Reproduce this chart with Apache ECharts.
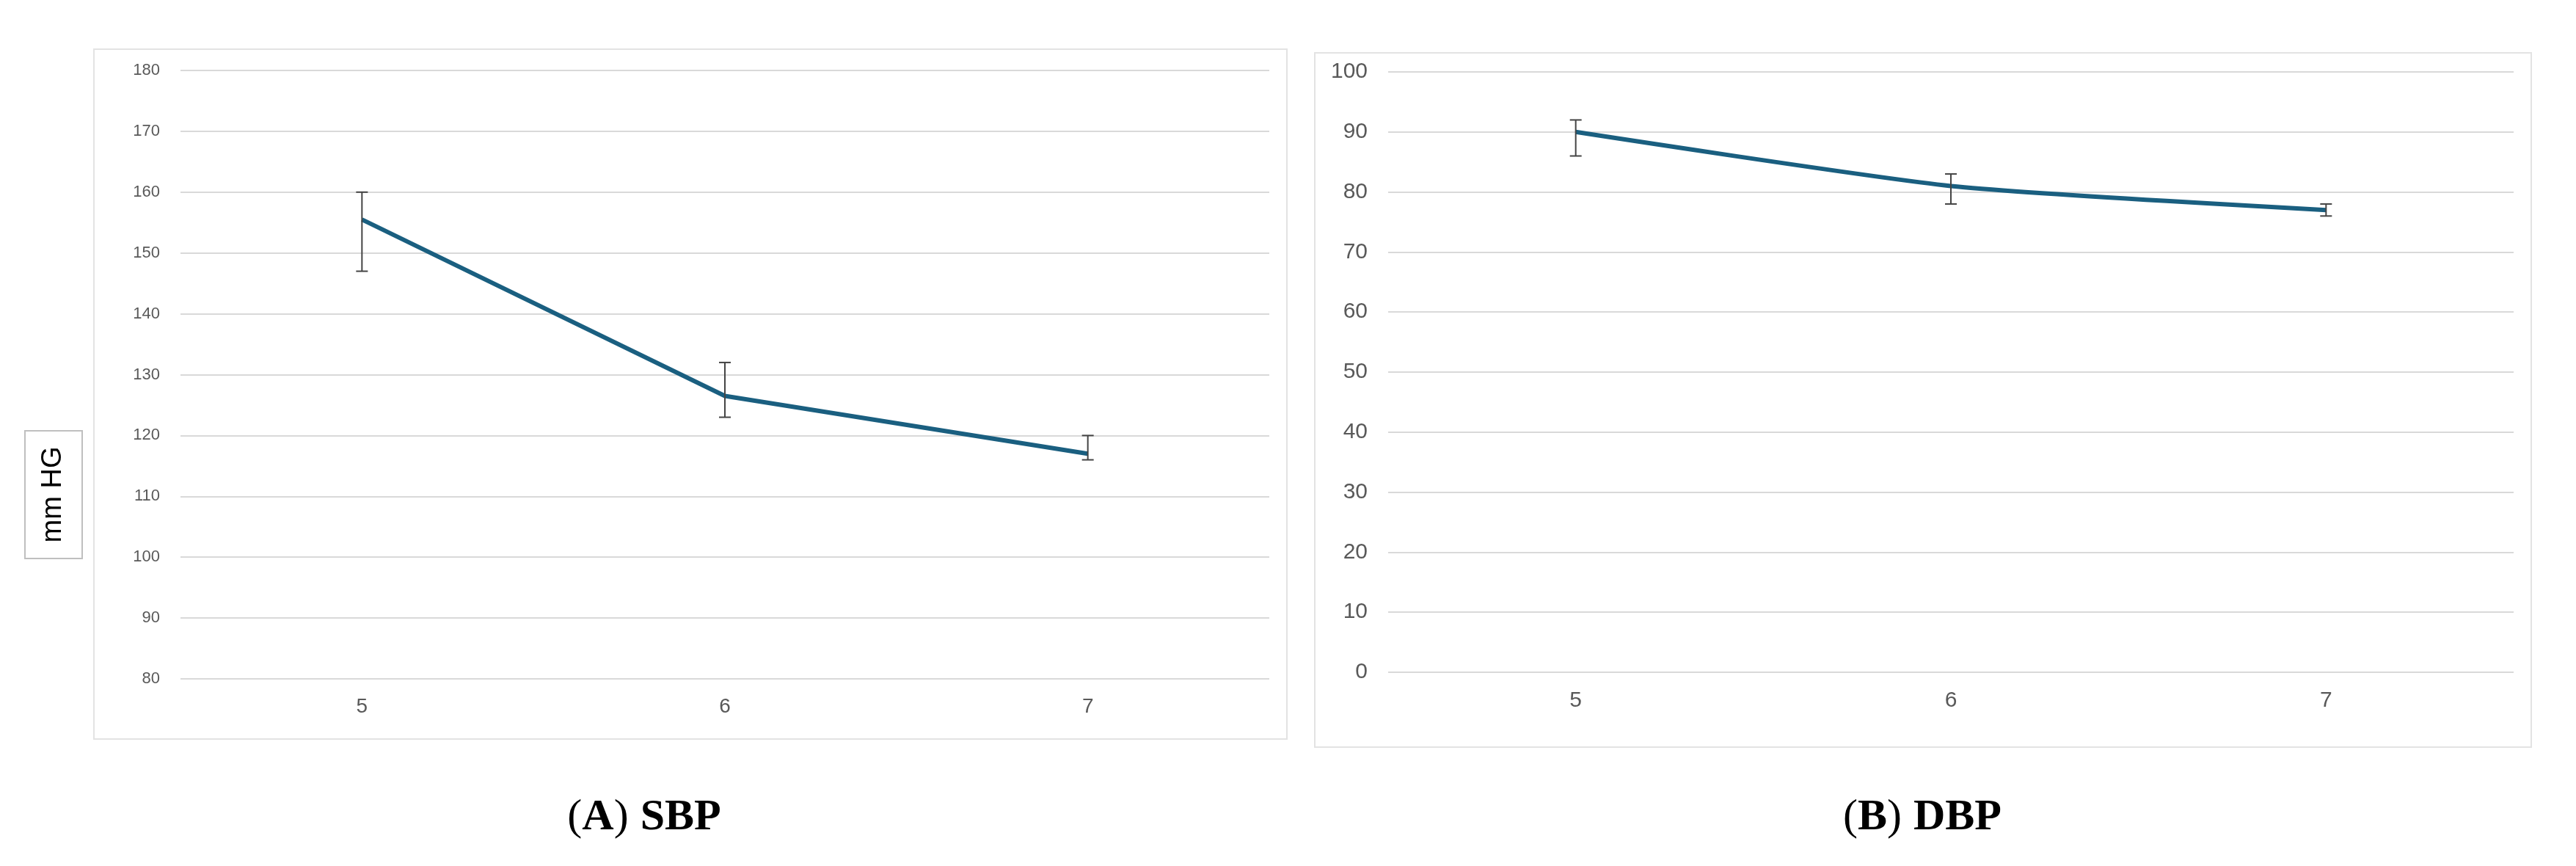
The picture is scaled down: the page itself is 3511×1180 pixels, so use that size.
<!DOCTYPE html>
<html>
<head>
<meta charset="utf-8">
<script src="https://cdn.jsdelivr.net/npm/echarts@6/dist/echarts.min.js"></script>
<style>html,body{margin:0;padding:0;background:#fff}#main{width:3511px;height:1180px}</style>
</head>
<body>
<div id="main"></div>
<script>
var chart = echarts.init(document.getElementById('main'));

var weeks = ['5', '6', '7'];
var sbpMean = [155.5, 126.5, 117];
var sbpLow = [147, 123, 116];
var sbpHigh = [160, 132, 120];
var dbpMean = [90, 81, 77];
var dbpLow = [86, 78, 76];
var dbpHigh = [92, 83, 78];

var lineColor = '#1a5f80';

function errorData(low, high) {
    return low.map(function (l, i) { return [i, l, high[i]]; });
}

function renderError(params, api) {
    var lo = api.coord([api.value(0), api.value(1)]);
    var hi = api.coord([api.value(0), api.value(2)]);
    var w = 8;
    var st = { stroke: '#444', lineWidth: 2 };
    return {
        type: 'group',
        children: [
            { type: 'line', shape: { x1: lo[0], y1: lo[1], x2: hi[0], y2: hi[1] }, style: st },
            { type: 'line', shape: { x1: lo[0] - w, y1: lo[1], x2: lo[0] + w, y2: lo[1] }, style: st },
            { type: 'line', shape: { x1: hi[0] - w, y1: hi[1], x2: hi[0] + w, y2: hi[1] }, style: st }
        ]
    };
}

function xAxis(idx, size) {
    return {
        type: 'category', gridIndex: idx, data: weeks,
        axisLine: { show: false }, axisTick: { show: false },
        axisLabel: { color: '#595959', fontSize: size, margin: 24, fontFamily: 'Liberation Sans' }
    };
}

function yAxis(idx, min, max, size) {
    return {
        type: 'value', gridIndex: idx, min: min, max: max, interval: 10,
        axisLine: { show: false }, axisTick: { show: false },
        axisLabel: { color: '#595959', fontSize: size, margin: 28, fontFamily: 'Liberation Sans' },
        splitLine: { lineStyle: { color: '#d9d9d9', width: 2 } }
    };
}

function caption(x, letter, name) {
    return {
        type: 'text', x: x, y: 1114,
        style: {
            text: '{n|(}{b|' + letter + '}{n|)}{s| }{b|' + name + '}', align: 'center', verticalAlign: 'middle',
            rich: {
                n: { font: '60px "Liberation Serif"', fill: '#000' },
                b: { font: 'bold 60px "Liberation Serif"', fill: '#000' },
                s: { font: '60px "Liberation Serif"', width: 16 }
            }
        }
    };
}

option = {
    backgroundColor: '#fff',
    animation: false,
    grid: [
        { left: 246, right: 3511 - 1730, top: 96, bottom: 1180 - 925 },
        { left: 1892, right: 3511 - 3426, top: 98, bottom: 1180 - 916 }
    ],
    xAxis: [xAxis(0, 28), xAxis(1, 30)],
    yAxis: [yAxis(0, 80, 180, 22), yAxis(1, 0, 100, 30)],
    graphic: [
        { type: 'rect', shape: { x: 128, y: 67, width: 1626, height: 940 }, style: { fill: 'none', stroke: '#e3e3e3', lineWidth: 2 }, z: -1 },
        { type: 'rect', shape: { x: 1792, y: 72, width: 1658, height: 946 }, style: { fill: 'none', stroke: '#e3e3e3', lineWidth: 2 }, z: -1 },
        { type: 'rect', shape: { x: 34, y: 587, width: 78, height: 174 }, style: { fill: '#fff', stroke: '#bfbfbf', lineWidth: 2 } },
        {
            type: 'text', x: 73, y: 674, rotation: Math.PI / 2,
            style: { text: 'mm HG', fill: '#000', font: '38px "Liberation Sans"', align: 'center', verticalAlign: 'middle' }
        },
        caption(878, 'A', 'SBP'),
        caption(2620, 'B', 'DBP')
    ],
    series: [
        {
            type: 'line', xAxisIndex: 0, yAxisIndex: 0, data: sbpMean,
            symbol: 'none', lineStyle: { color: lineColor, width: 6 }, z: 3
        },
        {
            type: 'custom', xAxisIndex: 0, yAxisIndex: 0, data: errorData(sbpLow, sbpHigh),
            renderItem: renderError, z: 4
        },
        {
            type: 'line', xAxisIndex: 1, yAxisIndex: 1, data: dbpMean,
            symbol: 'none', smooth: 0.2, lineStyle: { color: lineColor, width: 6 }, z: 3
        },
        {
            type: 'custom', xAxisIndex: 1, yAxisIndex: 1, data: errorData(dbpLow, dbpHigh),
            renderItem: renderError, z: 4
        }
    ]
};

chart.setOption(option);
</script>
</body>
</html>
